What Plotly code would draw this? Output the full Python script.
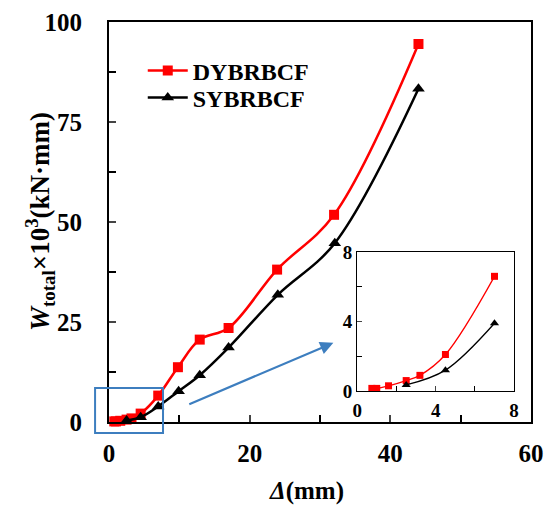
import plotly.graph_objects as go

# ---- data ----
dy_x = [0.75, 1.0, 1.6, 2.5, 3.2, 4.5, 7.0, 9.8, 12.9, 17.0, 23.9, 32.0, 44.0]
dy_y = [0.15, 0.15, 0.3, 0.6, 0.9, 2.1, 6.6, 13.7, 20.6, 23.5, 38.1, 51.8, 94.5]
sy_x = [2.5, 4.5, 7.0, 9.9, 12.9, 17.0, 24.0, 32.1, 44.0]
sy_y = [0.35, 1.2, 3.9, 7.7, 11.7, 18.6, 31.8, 44.7, 83.3]
names = ["DYBRBCF", "SYBRBCF"]
main_xticks = [0, 20, 40, 60]
main_yticks = [0, 25, 50, 75, 100]
inset_ticks = [0, 4, 8]
x_title = "<b><i>Δ</i>(mm)</b>"
y_title = "<b><i>W</i><sub>total</sub>×10<sup>3</sup>(kN·mm)</b>"

FONT = "Liberation Serif"
RED = "#ff0000"
BLK = "#000000"
BLUE = "#3d7ebf"
SM = 1.0

fig = go.Figure()

# main traces
fig.add_trace(go.Scatter(x=dy_x, y=dy_y, name=names[0], mode="lines+markers", legend="legend",
                         line=dict(color=RED, width=2.5, shape="spline", smoothing=SM),
                         marker=dict(symbol="square", size=10, color=RED),
                         cliponaxis=False))
fig.add_trace(go.Scatter(x=sy_x, y=sy_y, name=names[1], mode="lines+markers", legend="legend2",
                         line=dict(color=BLK, width=2.5, shape="spline", smoothing=SM),
                         marker=dict(symbol="triangle-up", size=11, color=BLK),
                         cliponaxis=False))

# inset traces
ix = [(x, y) for x, y in zip(dy_x, dy_y) if x <= 8]
sx = [(x, y) for x, y in zip(sy_x, sy_y) if x <= 8]
fig.add_trace(go.Scatter(x=[p[0] for p in ix], y=[p[1] for p in ix], xaxis="x2", yaxis="y2",
                         mode="lines+markers", showlegend=False,
                         line=dict(color=RED, width=1.3, shape="spline", smoothing=SM),
                         marker=dict(symbol="square", size=7, color=RED), cliponaxis=False))
fig.add_trace(go.Scatter(x=[p[0] for p in sx], y=[p[1] for p in sx], xaxis="x2", yaxis="y2",
                         mode="lines+markers", showlegend=False,
                         line=dict(color=BLK, width=1.3, shape="spline", smoothing=SM),
                         marker=dict(symbol="triangle-up", size=8, color=BLK), cliponaxis=False))

tickfont = dict(family=FONT, size=25, color="black", weight="bold")
inset_font = dict(family=FONT, size=19, color="black", weight="bold")
legfont = dict(family=FONT, size=24, color="black", weight="bold")

fig.update_layout(
    width=555, height=505,
    margin=dict(l=109, r=24, t=22, b=83, autoexpand=False),
    paper_bgcolor="white", plot_bgcolor="white",
    font=dict(family=FONT, color="black"),
    xaxis=dict(range=[0, 60], tickvals=main_xticks, ticks="inside", ticklen=7, tickwidth=1.5,
               minor=dict(dtick=10, ticks="inside", ticklen=7, tickwidth=1.5, tickcolor="black"),
               showline=True, linecolor="black", linewidth=2, mirror=True, showgrid=False,
               zeroline=False, tickfont=tickfont, ticklabelstandoff=8, automargin=False),
    yaxis=dict(range=[0, 100], tickvals=main_yticks, ticks="inside", ticklen=7, tickwidth=1.5,
               minor=dict(dtick=12.5, ticks="inside", ticklen=7, tickwidth=1.5, tickcolor="black"),
               showline=True, linecolor="black", linewidth=2, mirror=True, showgrid=False,
               zeroline=False, tickfont=tickfont, ticklabelstandoff=20, automargin=False),
    xaxis2=dict(domain=[0.588, 0.960], anchor="y2", range=[0, 8], tickvals=inset_ticks,
                ticks="inside", ticklen=5, tickwidth=1, automargin=False, ticklabelstandoff=2,
                minor=dict(dtick=2, ticks="inside", ticklen=5, tickwidth=1, tickcolor="black"),
                showline=True, linecolor="black", linewidth=1.2, mirror=True, showgrid=False,
                zeroline=False, tickfont=inset_font),
    yaxis2=dict(domain=[0.0775, 0.425], anchor="x2", range=[0, 8], tickvals=inset_ticks,
                ticks="inside", ticklen=5, tickwidth=1, automargin=False,
                minor=dict(dtick=2, ticks="inside", ticklen=5, tickwidth=1, tickcolor="black"),
                showline=True, linecolor="black", linewidth=1.2, mirror=True, showgrid=False,
                zeroline=False, tickfont=inset_font),
    legend=dict(x=0.08, y=0.8775, xanchor="left", yanchor="middle", bgcolor="rgba(0,0,0,0)",
                font=legfont, itemwidth=40),
    legend2=dict(x=0.08, y=0.81, xanchor="left", yanchor="middle", bgcolor="rgba(0,0,0,0)",
                 font=legfont, itemwidth=40),
    showlegend=True,
)

# axis titles
fig.add_annotation(text=x_title, xref="paper", yref="paper", x=0.469, y=-0.1725,
                   xanchor="center", yanchor="middle", showarrow=False,
                   font=dict(family=FONT, size=25, color="black"))
fig.add_annotation(text=y_title, xref="paper", yref="paper", x=-0.1635, y=0.5, textangle=-90,
                   xanchor="center", yanchor="middle", showarrow=False,
                   font=dict(family=FONT, size=27, color="black"))

# blue box marking zoomed region (paper coords of plot area)
fig.add_shape(type="rect", xref="paper", yref="paper", x0=-0.033, x1=0.128, y0=-0.0275, y1=0.085,
              line=dict(color=BLUE, width=2), fillcolor="rgba(0,0,0,0)")
# arrow to inset
fig.add_annotation(x=31.9, y=19.8, ax=11.2, ay=4.3, xref="x", yref="y", axref="x", ayref="y",
                   text="", showarrow=True, arrowhead=2, arrowsize=1.2, arrowwidth=2.2,
                   arrowcolor=BLUE)

fig.write_html("out.html")
